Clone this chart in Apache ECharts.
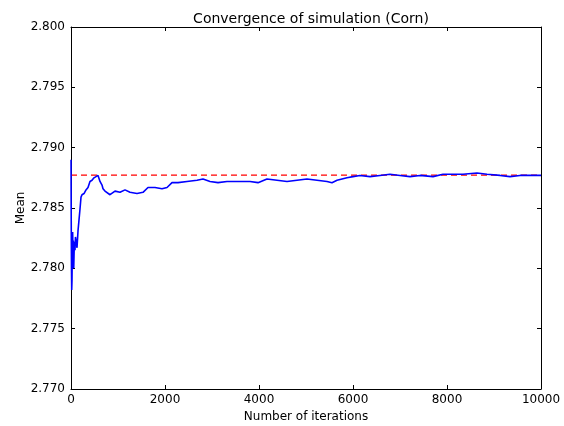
<!DOCTYPE html>
<html>
<head>
<meta charset="utf-8">
<script src="https://cdn.jsdelivr.net/npm/echarts@6/dist/echarts.min.js"></script>
<style>
  html, body { margin: 0; padding: 0; background: #fff; }
  #chart { width: 564px; height: 426px; }
</style>
</head>
<body>
<div id="chart"></div>
<script>
var iterations = [1, 3, 6, 10, 15, 21, 28, 35, 43, 50, 58, 64, 72, 85, 95, 106, 118, 128, 149, 170,
  191, 213, 234, 277, 319, 362, 404, 447, 489, 532, 575, 617, 660, 681, 723, 830, 936, 1043, 1149, 1255,
  1404, 1532, 1638, 1787, 1936, 2043, 2149, 2277, 2468, 2681, 2809, 2958, 3128, 3319, 3447, 3660, 3809, 3979,
  4170, 4383, 4596, 4809, 5021, 5234, 5447, 5553, 5660, 5872, 6000, 6149, 6362, 6574, 6787, 7000, 7213,
  7426, 7702, 7915, 8128, 8340, 8638, 8851, 9128, 9340, 9553, 9830, 10000];
var means = [2.7890, 2.7860, 2.7830, 2.7800, 2.7782, 2.7790, 2.7815, 2.7830, 2.7810, 2.7823, 2.7800, 2.7810,
  2.7822, 2.7815, 2.7826, 2.7826, 2.7820, 2.7817, 2.7831, 2.7840, 2.7849, 2.7859, 2.7861, 2.7862, 2.7865,
  2.7867, 2.7872, 2.7873, 2.7875, 2.7876, 2.7877, 2.7872, 2.7869, 2.7866, 2.7864, 2.7861, 2.7864, 2.7863,
  2.7865, 2.7863, 2.7862, 2.7863, 2.7867, 2.7867, 2.7866, 2.7867, 2.7871, 2.7871, 2.7872, 2.7873, 2.7874,
  2.7872, 2.7871, 2.7872, 2.7872, 2.7872, 2.7872, 2.7871, 2.7874, 2.7873, 2.7872, 2.7873, 2.7874, 2.7873,
  2.7872, 2.7871, 2.7873, 2.7875, 2.7876, 2.7877, 2.7876, 2.7877, 2.7878, 2.7877, 2.7876, 2.7877, 2.7876,
  2.7878, 2.7878, 2.7878, 2.7879, 2.7878, 2.7877, 2.7876, 2.7877, 2.7877, 2.7877];
var expectedMean = 2.78773;
var xTicks = ['0', '2000', '4000', '6000', '8000', '10000'];
var yTicks = ['2.770', '2.775', '2.780', '2.785', '2.790', '2.795', '2.800'];

var font = 'DejaVu Sans';
var myChart = echarts.init(document.getElementById('chart'));

var meanData = iterations.map(function (it, i) { return [it, means[i]]; });
var frameLine = { show: true, onZero: false, lineStyle: { color: '#000', width: 1 } };
var tick = { show: true, inside: true, length: 4, lineStyle: { color: '#000' } };

myChart.setOption({
  animation: false,
  title: {
    text: 'Convergence of simulation (Corn)',
    left: 306,
    textAlign: 'center',
    top: 7,
    textStyle: { fontFamily: font, fontSize: 14, fontWeight: 'normal', color: '#000' }
  },
  grid: { left: 71, right: 23, top: 27, bottom: 37, outerBoundsMode: 'none' },
  xAxis: [
    {
      type: 'value',
      min: 0,
      max: 10000,
      interval: 2000,
      name: 'Number of iterations',
      nameLocation: 'middle',
      nameGap: 22,
      nameTextStyle: { fontFamily: font, fontSize: 12, color: '#000' },
      axisLine: frameLine,
      axisTick: tick,
      splitLine: { show: false },
      axisLabel: {
        fontFamily: font, fontSize: 12, color: '#000', margin: 5,
        formatter: function (v) { return xTicks[Math.round(v / 2000)]; }
      }
    },
    {
      type: 'value',
      position: 'top',
      min: 0,
      max: 10000,
      interval: 2000,
      axisLine: frameLine,
      axisTick: tick,
      splitLine: { show: false },
      axisLabel: { show: false }
    }
  ],
  yAxis: [
    {
      type: 'value',
      min: 2.770,
      max: 2.800,
      interval: 0.005,
      name: 'Mean',
      nameLocation: 'middle',
      nameGap: 44,
      nameMoveOverlap: false,
      nameTextStyle: { fontFamily: font, fontSize: 12, color: '#000' },
      axisLine: frameLine,
      axisTick: tick,
      splitLine: { show: false },
      axisLabel: {
        fontFamily: font, fontSize: 12, color: '#000', margin: 6,
        formatter: function (v) {
          var idx = Math.round((v - 2.770) / 0.005);
          return yTicks[idx];
        }
      }
    },
    {
      type: 'value',
      position: 'right',
      min: 2.770,
      max: 2.800,
      interval: 0.005,
      axisLine: frameLine,
      axisTick: tick,
      splitLine: { show: false },
      axisLabel: { show: false }
    }
  ],
  series: [
    {
      name: 'Expected',
      type: 'line',
      symbol: 'none',
      color: '#ff0000',
      data: [[0, expectedMean], [10000, expectedMean]],
      itemStyle: { color: '#ff0000' },
      lineStyle: { color: '#ff0000', width: 1.2, opacity: 1, type: [6, 4] },
      z: 1
    },
    {
      name: 'Mean',
      type: 'line',
      symbol: 'none',
      color: '#0000ff',
      data: meanData,
      lineStyle: { color: '#0000ff', width: 1.6 },
      z: 2
    }
  ]
});
</script>
</body>
</html>
